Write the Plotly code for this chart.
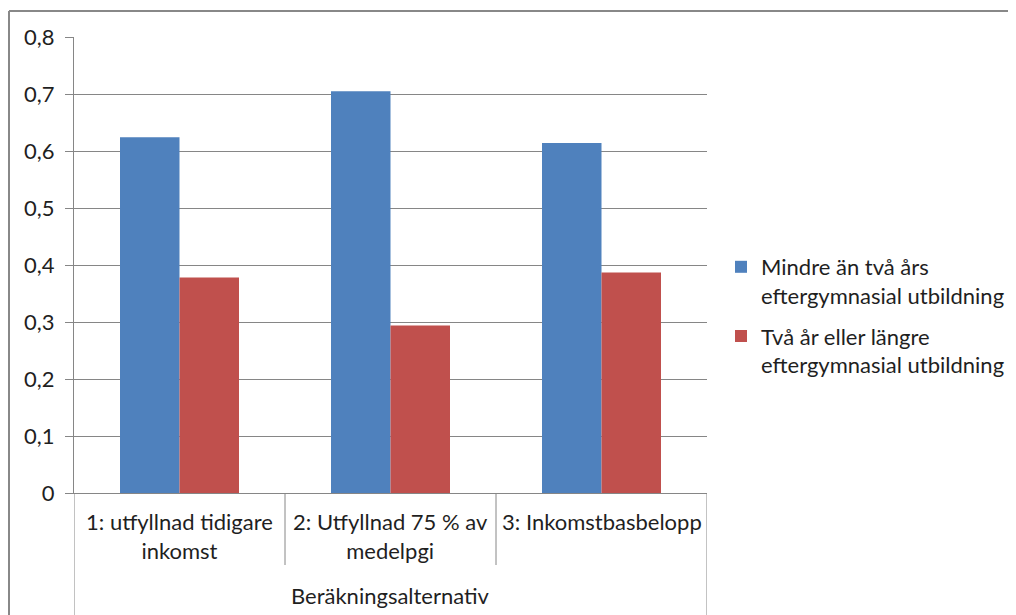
import plotly.graph_objects as go

categories = ["1: utfyllnad tidigare<br>inkomst", "2: Utfyllnad 75 % av<br>medelpgi", "3: Inkomstbasbelopp"]
series_names = ["Mindre än två års<br>eftergymnasial utbildning",
                "Två år eller längre<br>eftergymnasial utbildning"]
values_short = [0.624, 0.705, 0.614]
values_long = [0.378, 0.294, 0.387]
series_colors = ["#4F81BD", "#C0504D"]
axis_title = "Beräkningsalternativ"
y_ticks = [0, 0.1, 0.2, 0.3, 0.4, 0.5, 0.6, 0.7, 0.8]

FONT = "Lato"
FS = 22
TXT = "#1f1f1f"
GRID = "#868686"

xpos = list(range(len(categories)))

fig = go.Figure()
for k, (name, vals, col) in enumerate(zip(series_names, [values_short, values_long], series_colors)):
    fig.add_trace(go.Bar(x=xpos, y=vals, name=name, legendgroup=f"g{k}",
                         marker=dict(color=col, line=dict(width=0))))

# page body has an 8px margin: work in figure coordinates (= screen - 8)
W, H = 1008, 607
L, T = 66, 29
X1, Y0 = 699, 485
R, B = W - X1, H - Y0
ph = Y0 - T
pw = X1 - L

fig.update_layout(
    width=W, height=H,
    margin=dict(l=L, r=R, t=T, b=B, autoexpand=False),
    paper_bgcolor="white", plot_bgcolor="white",
    barmode="group", bargap=0.436, bargroupgap=0,
    separators=", ",
    font=dict(family=FONT, size=FS, color=TXT),
    showlegend=True,
    legend=dict(x=(713 - L) / pw, xanchor="left",
                y=(Y0 - 238) / ph, yanchor="top",
                valign="top", font=dict(size=FS, color=TXT),
                tracegroupgap=9, traceorder="grouped",
                bgcolor="rgba(0,0,0,0)"),
    xaxis=dict(range=[-0.5, len(categories) - 0.5], showticklabels=False, ticks="",
               showgrid=False, zeroline=False, showline=True, linecolor=GRID, linewidth=1,
               fixedrange=True),
    yaxis=dict(range=[0, 0.8], tickvals=y_ticks, ticks="outside", ticklen=8, tickcolor=GRID,
               showgrid=True, gridcolor=GRID, gridwidth=1, zeroline=False,
               showline=True, linecolor=GRID, linewidth=1, ticklabelstandoff=6,
               tickfont=dict(size=FS, color=TXT)),
)

# category labels
for i, c in enumerate(categories):
    fig.add_annotation(x=i, y=-(498 - Y0) / ph, xref="x", yref="paper", text=c,
                       showarrow=False, yanchor="top", xanchor="center",
                       font=dict(size=FS, color=TXT), align="center")
fig.add_annotation(x=0.5, y=-(572 - Y0) / ph, xref="paper", yref="paper", text=axis_title,
                   showarrow=False, yanchor="top", xanchor="center", font=dict(size=FS, color=TXT))

# category separators
for i in range(1, len(categories)):
    fig.add_shape(type="line", xref="x", yref="paper", x0=i - 0.5, x1=i - 0.5,
                  y0=0, y1=-(557 - Y0) / ph, line=dict(color=GRID, width=1))
for xe in [-0.5, len(categories) - 0.5]:
    fig.add_shape(type="line", xref="x", yref="paper", x0=xe, x1=xe,
                  y0=0, y1=-(660 - Y0) / ph, line=dict(color=GRID, width=1))

# chart border (only top and left edges are visible in the frame)
bx0, by0 = (1 - L) / pw, (Y0 - 3) / ph
fig.add_shape(type="line", xref="paper", yref="paper", x0=bx0, x1=(1200 - L) / pw,
              y0=by0, y1=by0, line=dict(color="#888888", width=2), layer="below")
fig.add_shape(type="line", xref="paper", yref="paper", x0=bx0, x1=bx0,
              y0=by0, y1=(Y0 - 800) / ph, line=dict(color="#888888", width=2), layer="below")

fig.write_html("out.html")
